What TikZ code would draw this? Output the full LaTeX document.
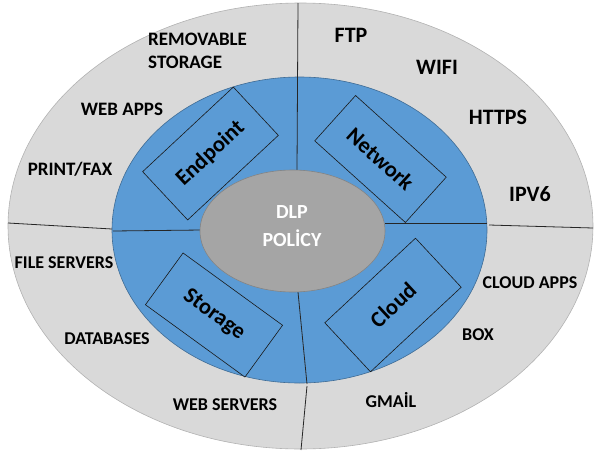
\documentclass[tikz,border=0pt]{standalone}
\usepackage{fontspec}
\setmainfont{Carlito}
\definecolor{outergray}{HTML}{D9D9D9}
\definecolor{dlpblue}{HTML}{5B9BD5}
\definecolor{innergray}{HTML}{A5A5A5}
\begin{document}
\begin{tikzpicture}[x=1pt,y=-1pt,
  lbl/.style={font=\fontsize{18}{21}\selectfont\bfseries, text=black, inner sep=0pt},
  toplbl/.style={font=\fontsize{19}{23}\selectfont\bfseries, text=black, inner sep=0pt},
  biglbl/.style={font=\fontsize{22}{26}\selectfont\bfseries, text=black, inner sep=0pt},
  seg/.style={draw=black!85, line width=0.8pt},
  zone/.style={draw=black!90, line width=0.6pt, fill=dlpblue, inner sep=0pt,
    font=\fontsize{22.5}{26}\selectfont\bfseries, text=black},
  core/.style={font=\fontsize{20}{24}\selectfont\bfseries, text=white, inner sep=0pt}]
\useasboundingbox (0,0) rectangle (595,453);
% rings
\draw[draw=black!30, line width=0.6pt, fill=outergray] (300.5,226) ellipse [x radius=292.5pt, y radius=223pt];
\draw[draw=dlpblue!70!black, line width=0.6pt, fill=dlpblue] (299.5,230) ellipse [x radius=187.5pt, y radius=153pt];
% dividing lines
\draw[seg] (298,3) -- (297,170);
\draw[seg] (8,223) -- (112,229);
\draw[seg] (113,231) -- (202,230);
\draw[seg] (385,223) -- (487,223);
\draw[seg] (489,225) -- (593,228);
\draw[seg] (298,292) -- (307,384);
\draw[seg] (307,386) -- (301,450);
% core
\draw[draw=innergray!80!black, line width=0.6pt, fill=innergray] (292.5,231) ellipse [x radius=92.5pt, y radius=61pt];
\node[core] (dlp) at (292,212) {DLP};
\node[core] (policy) at (292,238) {POLİCY};
% zones
\node[zone, minimum width=124pt, minimum height=66pt, rotate=43] (endpoint) at (210.5,153.5) {Endpoint};
\node[zone, minimum width=122pt, minimum height=61pt, rotate=-42] (network) at (380.5,159) {Network};
\node[zone, minimum width=123pt, minimum height=64pt, rotate=-36] (storage) at (214,315) {Storage};
\node[zone, minimum width=124pt, minimum height=67pt, rotate=43] (cloud) at (393,305) {Cloud};
% endpoint labels
\node[toplbl, align=left, anchor=west] (removable) at (148,51) {REMOVABLE\\STORAGE};
\node[toplbl] (webapps) at (122,109) {WEB APPS};
\node[toplbl] (printfax) at (70,169) {PRINT/FAX};
% network labels
\node[biglbl] (ftp) at (351,35) {FTP};
\node[biglbl] (wifi) at (437,67) {WIFI};
\node[biglbl] (https) at (498,117) {HTTPS};
\node[biglbl] (ipv6) at (530,194) {IPV6};
% storage labels
\node[lbl] (fileservers) at (64,263) {FILE SERVERS};
\node[lbl] (databases) at (107,339) {DATABASES};
\node[lbl] (webservers) at (225,405) {WEB SERVERS};
% cloud labels
\node[lbl] (cloudapps) at (530,283) {CLOUD APPS};
\node[lbl] (box) at (478,335) {BOX};
\node[lbl] (gmail) at (391,400) {GMAİL};
\end{tikzpicture}
\end{document}
